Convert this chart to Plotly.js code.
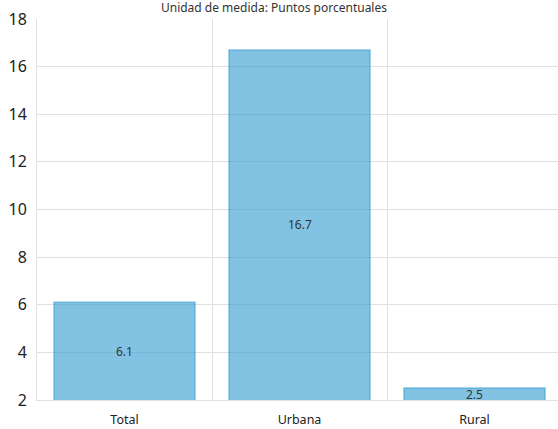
<!DOCTYPE html>
<html>
<head>
<meta charset="utf-8">
<script src="https://cdn.plot.ly/plotly-3.0.1.min.js"></script>
<style>html,body{margin:0;padding:0;background:#fff;}#chart{width:558px;height:429px;}</style>
</head>
<body>
<div id="chart"></div>
<script>
const categories = ["Total", "Urbana", "Rural"];
const values = [6.1, 16.7, 2.5];
const valueLabels = ["6.1", "16.7", "2.5"];
const titleText = "Unidad de medida: Puntos porcentuales";
const yTicks = [2, 4, 6, 8, 10, 12, 14, 16, 18];

const yMin = 2, yMax = 18;
const font = "'Noto Sans', 'Open Sans', sans-serif";

const trace = {
  type: "bar",
  x: categories,
  y: values,
  marker: {
    color: "rgba(47,155,208,0.6)",
    line: { color: "rgba(60,160,212,0.6)", width: 1.5 }
  },
  textposition: "none",
  hoverinfo: "x+y"
};

const annotations = categories.map((c, i) => ({
  x: c,
  y: (Math.max(values[i], yMin) + yMin) / 2,
  xref: "x", yref: "y",
  text: valueLabels[i],
  showarrow: false,
  font: { family: font, size: 12, color: "#333" },
  yanchor: "middle"
}));

const layout = {
  width: 558, height: 429,
  margin: { l: 37, r: 0, t: 19, b: 29 },
  paper_bgcolor: "#fff",
  plot_bgcolor: "#fff",
  title: {
    text: titleText,
    font: { family: font, size: 12, color: "#333" },
    x: 0.491, xanchor: "center",
    y: 0.982, yanchor: "middle", yref: "container",
    pad: { t: 0, b: 0 }
  },
  showlegend: false,
  bargap: 0.194,
  xaxis: {
    type: "category",
    range: [-0.5, 2.477],
    tickson: "boundaries",
    ticks: "",
    showgrid: true,
    gridcolor: "#e0e0e0",
    gridwidth: 1,
    showline: true,
    linecolor: "#e0e0e0",
    tickfont: { family: font, size: 12.5, color: "#222" },
    ticklabelstandoff: 8
  },
  yaxis: {
    range: [yMin, yMax],
    tickvals: yTicks,
    ticks: "",
    showgrid: true,
    gridcolor: "#e0e0e0",
    gridwidth: 1,
    zeroline: false,
    showline: true,
    linecolor: "#e0e0e0",
    tickfont: { family: font, size: 16, color: "#222" },
    ticklabelstandoff: 6
  },
  annotations: annotations
};

Plotly.newPlot("chart", [trace], layout, { displayModeBar: false, staticPlot: true });
</script>
</body>
</html>
